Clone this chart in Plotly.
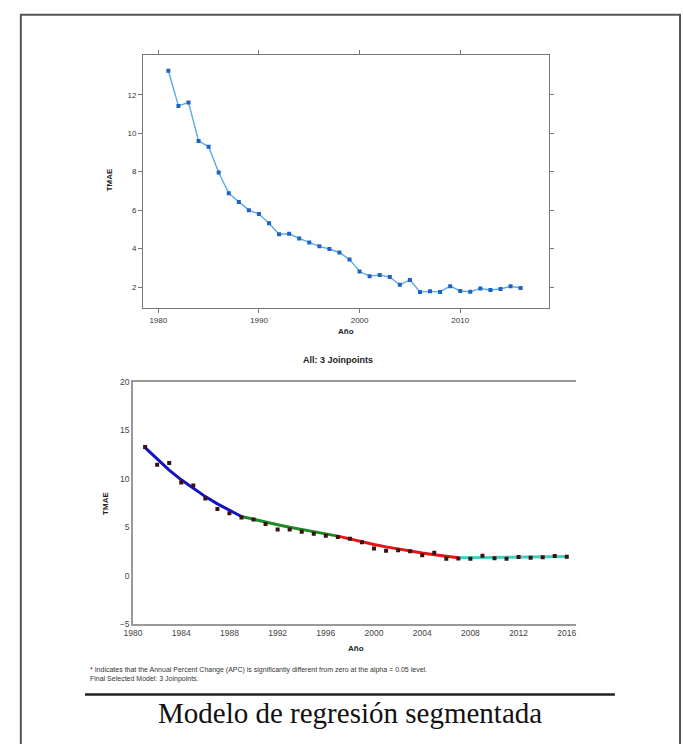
import plotly.graph_objects as go

# Observed TMAE by year
years = list(range(1981, 2017))
tmae = [13.25, 11.42, 11.6, 9.6, 9.3, 7.96, 6.88, 6.43, 6.0, 5.8, 5.32, 4.75,
        4.77, 4.53, 4.32, 4.12, 3.98, 3.8, 3.44, 2.81, 2.57, 2.63, 2.52, 2.12,
        2.37, 1.75, 1.78, 1.75, 2.05, 1.8, 1.76, 1.93, 1.85, 1.9, 2.04, 1.95]

# Joinpoint regression: fitted values per segment
seg1_years = list(range(1981, 1990))
seg1_fit = [13.2, 11.99, 10.88, 9.88, 8.97, 8.15, 7.40, 6.72, 6.10]
seg2_years = list(range(1989, 1998))
seg2_fit = [6.10, 5.80, 5.52, 5.25, 4.99, 4.75, 4.51, 4.29, 4.08]
seg3_years = list(range(1997, 2008))
seg3_fit = [4.08, 3.77, 3.48, 3.22, 2.97, 2.75, 2.54, 2.34, 2.17, 2.00, 1.85]
seg4_years = list(range(2007, 2017))
seg4_fit = [1.85, 1.86, 1.88, 1.89, 1.91, 1.92, 1.94, 1.95, 1.97, 1.98]

top_xticks = [1980, 1990, 2000, 2010]
top_yticks = [2, 4, 6, 8, 10, 12]
bot_xticks = list(range(1980, 2017, 4))
bot_yticks = [-5, 0, 5, 10, 15, 20]

W, H = 683, 744


def px(x):
    return x / W


def py(y):
    return 1 - y / H


fig = go.Figure()

# Upper panel: observed series
fig.add_trace(go.Scatter(
    x=years, y=tmae, mode="lines+markers", xaxis="x", yaxis="y",
    line=dict(color="#5aaae8", width=1.4),
    marker=dict(symbol="square", size=4, color="#1f62c4"),
    showlegend=False, hoverinfo="skip"))

# Lower panel: joinpoint segments
seg_colors = ["#1212c0", "#1f8a25", "#e01515", "#45cfc2"]
for xs, ys, c in zip([seg1_years, seg2_years, seg3_years, seg4_years],
                     [seg1_fit, seg2_fit, seg3_fit, seg4_fit], seg_colors):
    fig.add_trace(go.Scatter(
        x=xs, y=ys, mode="lines", xaxis="x2", yaxis="y2",
        line=dict(color=c, width=3), showlegend=False, hoverinfo="skip"))

fig.add_trace(go.Scatter(
    x=years, y=tmae, mode="markers", xaxis="x2", yaxis="y2",
    marker=dict(symbol="square", size=4, color="#3a1212"),
    showlegend=False, hoverinfo="skip"))

tick_font = dict(family="Liberation Sans, Arial, sans-serif", size=8, color="#333")
bot_tick_font = dict(family="Liberation Sans, Arial, sans-serif", size=8.5, color="#444")
axis_col = "#777"

fig.update_layout(
    width=W, height=H,
    margin=dict(l=0, r=0, t=0, b=0),
    paper_bgcolor="white", plot_bgcolor="white",
    xaxis=dict(domain=[px(136), px(547)], range=[1978.5, 2018.8],
               tickvals=top_xticks, ticks="outside", ticklen=4, tickcolor=axis_col,
               showline=True, linecolor=axis_col, linewidth=1.2, mirror="ticks",
               showgrid=False, zeroline=False, tickfont=tick_font,
               anchor="y"),
    yaxis=dict(domain=[py(307), py(51)], range=[0.92, 14.05],
               tickvals=top_yticks, ticks="outside", ticklen=4, tickcolor=axis_col,
               showline=True, linecolor=axis_col, linewidth=1.2, mirror="ticks",
               showgrid=False, zeroline=False, tickfont=tick_font,
               anchor="x"),
    xaxis2=dict(domain=[px(125.7), px(575)], range=[1980, 2016.8],
                tickvals=bot_xticks, ticks="", showline=True, linecolor="#999",
                linewidth=1.5, mirror=True, showgrid=False, zeroline=False,
                tickfont=bot_tick_font, anchor="y2"),
    yaxis2=dict(domain=[py(627.7), py(381.7)], range=[-5, 20],
                tickvals=bot_yticks, ticks="", showline=True, linecolor="#999",
                linewidth=1.5, mirror=False, showgrid=False, zeroline=False,
                tickfont=bot_tick_font, anchor="x2"),
)

label_font = dict(family="Liberation Sans, Arial, sans-serif", size=8, color="#222")
annotations = [
    dict(x=px(102), y=py(177), text="<b>TMAE</b>", textangle=-90, font=label_font),
    dict(x=px(341), y=py(331), text="<b>Año</b>", font=label_font),
    dict(x=px(333), y=py(360), text="<b>All: 3 Joinpoints</b>",
         font=dict(family="Liberation Sans, Arial, sans-serif", size=9, color="#222")),
    dict(x=px(98), y=py(505), text="<b>TMAE</b>", textangle=-90, font=label_font),
    dict(x=px(352), y=py(652), text="<b>Año</b>", font=label_font),
    dict(x=px(80), y=py(679), xanchor="left", align="left",
         text="* Indicates that the Annual Percent Change (APC) is significantly different from zero at the alpha = 0.05 level.<br>"
              "Final Selected Model: 3 Joinpoints.",
         font=dict(family="Liberation Sans, Arial, sans-serif", size=7, color="#333")),
    dict(x=px(346), y=py(718), text="Modelo de regresión segmentada",
         font=dict(family="Liberation Serif, Times New Roman, serif", size=29, color="#111")),
]
for a in annotations:
    a.setdefault("xref", "paper")
    a.setdefault("yref", "paper")
    a.setdefault("showarrow", False)
    a.setdefault("xanchor", "center")
    a.setdefault("yanchor", "middle")
fig.update_layout(annotations=annotations)

fig.update_layout(shapes=[
    # page frame
    dict(type="rect", xref="paper", yref="paper",
         x0=px(12), x1=px(680), y0=-0.02, y1=py(10),
         line=dict(color="#555", width=2)),
    # rule above the caption
    dict(type="line", xref="paper", yref="paper",
         x0=px(77), x1=px(614), y0=py(699), y1=py(699),
         line=dict(color="#222", width=2.5)),
])

fig.write_html("out.html")
